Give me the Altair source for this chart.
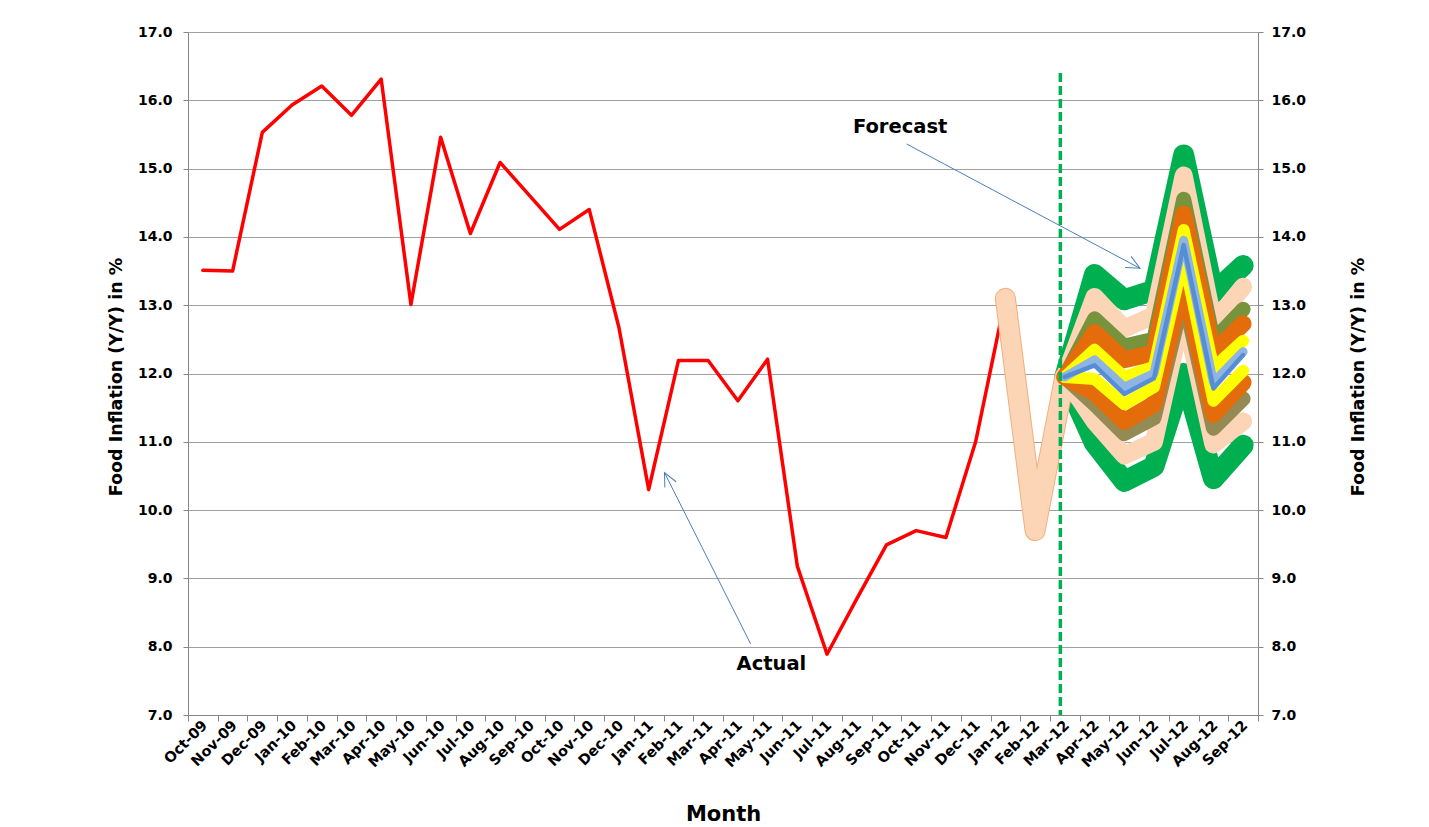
import math
import altair as alt
import pandas as pd

# ---------------- data ----------------
months = ["Oct-09", "Nov-09", "Dec-09", "Jan-10", "Feb-10", "Mar-10", "Apr-10", "May-10",
          "Jun-10", "Jul-10", "Aug-10", "Sep-10", "Oct-10", "Nov-10", "Dec-10", "Jan-11",
          "Feb-11", "Mar-11", "Apr-11", "May-11", "Jun-11", "Jul-11", "Aug-11", "Sep-11",
          "Oct-11", "Nov-11", "Dec-11", "Jan-12", "Feb-12", "Mar-12", "Apr-12", "May-12",
          "Jun-12", "Jul-12", "Aug-12", "Sep-12"]

# actual food inflation (red), continuing as forecast centre
actual = [13.51, 13.50, 15.53, 15.93, 16.21, 15.78, 16.31, 13.01, 15.46, 14.05, 15.09, 14.60,
          14.11, 14.40, 12.67, 10.30, 12.19, 12.19, 11.60, 12.21, 9.18, 7.89, 8.70, 9.49,
          9.70, 9.60, 11.00, 13.10, 9.70, 11.95, 12.14, 11.72, 11.94, 13.90, 11.80, 12.28]

# fan bands, Mar-12 .. Sep-12
green_up  = [11.95, 13.45, 13.08, 13.22, 15.20, 13.18, 13.58]
peach_up  = [11.95, 13.12, 12.66, 12.85, 14.90, 12.74, 13.27]
olive_up  = [11.95, 12.80, 12.40, 12.50, 14.55, 12.48, 12.94]
orange_up = [11.95, 12.60, 12.20, 12.30, 14.33, 12.30, 12.73]
yellow_up = [11.95, 12.35, 11.95, 12.10, 14.10, 12.08, 12.48]
lblue     = [11.95, 12.20, 11.80, 12.00, 13.95, 11.87, 12.32]
blue      = [11.95, 12.12, 11.70, 11.93, 13.88, 11.78, 12.27]
yellow_lo = [11.95, 11.92, 11.55, 11.80, 13.70, 11.60, 12.04]
orange_lo = [11.95, 11.72, 11.30, 11.55, 13.36, 11.40, 11.87]
olive_lo  = [11.95, 11.55, 11.12, 11.35, 13.15, 11.20, 11.63]
peach_lo  = [11.95, 11.30, 10.80, 11.00, 12.95, 10.96, 11.30]
green_lo  = [11.95, 10.98, 10.42, 10.64, 12.00, 10.46, 10.95]
# thick peach segment Jan-12 .. Mar-12
peach_hist = [13.10, 9.70, 11.95]

fan_start = "Mar-12"
hist_start = "Jan-12"
divider_pos = 28.85  # position of the dashed forecast divider (category units)

ann_labels = ["Forecast", "Actual"]
ann_x = [23.46, 19.13]
ann_y = [15.61, 7.75]

arrow_x = [23.68, 18.43]
arrow_y = [15.36, 8.04]
arrow_x2 = [31.53, 15.53]
arrow_y2 = [13.54, 10.55]

# ---------------- layout ----------------
N = len(months)
W, H = 1070, 683
YMIN, YMAX = 7.0, 17.0
TICK_FONT = "DejaVu Sans"
GRID = "#A0A0A0"
AXC = "#868686"


def frame(vals, start):
    i0 = months.index(start)
    return pd.DataFrame({"idx": list(range(i0, i0 + len(vals))), "value": vals})


xscale = alt.Scale(domain=[-0.5, N - 0.5], nice=False, zero=False)
yscale = alt.Scale(domain=[YMIN, YMAX], nice=False, zero=False)

months_js = "[" + ",".join("'" + m + "'" for m in months) + "]"
xaxis = alt.Axis(
    values=[i - 0.5 for i in range(N + 1)],
    labelExpr="datum.value > " + str(N - 1) + " ? '' : " + months_js + "[round(datum.value + 0.5)]",
    labelOffset=W / N / 2 + 2,
    labelAngle=315, labelAlign="right", labelBaseline="middle",
    labelPadding=2, labelOverlap=False, labelFlush=False, labelBound=False,
    labelFont=TICK_FONT, labelFontSize=14.5, labelFontWeight="bold", labelColor="black",
    tickSize=6, tickColor=AXC, domainColor=AXC, grid=False,
    title="Month", titleFont=TICK_FONT, titleFontSize=21, titleFontWeight="bold",
    titleColor="black", titleY=105, titleBaseline="alphabetic",
)

yvals = [YMIN + i for i in range(int(YMAX - YMIN) + 1)]


def yaxis(orient):
    left = orient == "left"
    return alt.Axis(
        orient=orient, values=yvals, format=".1f",
        grid=left, gridColor=GRID, gridWidth=1,
        tickSize=5, tickColor=AXC, domainColor=AXC,
        labelPadding=11 if left else 8,
        labelFont=TICK_FONT, labelFontSize=14, labelFontWeight="bold", labelColor="black",
        title="Food Inflation (Y/Y) in %", titleFont=TICK_FONT, titleFontSize=17.5,
        titleFontWeight="bold", titleColor="black", titleAngle=270,
        titleAlign="center", titleBaseline="middle",
        titleX=-72 if left else 100, titleY=H / 2 + 3,
    )


def X(field="idx"):
    return alt.X(field + ":Q", scale=xscale, axis=xaxis)


def Y(field="value", axis=None):
    return alt.Y(field + ":Q", scale=yscale, axis=axis)


def line(df, color, width, axis=None, opacity=1.0):
    return alt.Chart(df).mark_line(
        color=color, strokeWidth=width, strokeCap="round", strokeJoin="round", opacity=opacity
    ).encode(x=X(), y=Y(axis=axis))


df_actual = frame(actual, months[0])

layers = [
    line(df_actual, "#FF0000", 3.5, axis=yaxis("left")),
    line(df_actual, "#FF0000", 3.5, axis=yaxis("right"), opacity=0),
    line(frame(green_up, fan_start), "#00B050", 21),
    line(frame(green_lo, fan_start), "#00B050", 21),
    line(frame(peach_hist, hist_start), "#F2AF7E", 21),
    line(frame(peach_hist, hist_start), "#FBD5B5", 19),
    line(frame(peach_up, fan_start), "#FBD5B5", 18),
    line(frame(peach_lo, fan_start), "#FBD5B5", 18),
    line(frame(olive_up, fan_start), "#77933C", 15),
    line(frame(olive_lo, fan_start), "#948A54", 15),
    line(frame(orange_up, fan_start), "#E46C0A", 17),
    line(frame(orange_lo, fan_start), "#E46C0A", 17),
    line(frame(yellow_up, fan_start), "#FFFF00", 12),
    line(frame(yellow_lo, fan_start), "#FFFF00", 12),
    line(frame(lblue, fan_start), "#8EB4E3", 9),
    line(frame(blue, fan_start), "#558ED5", 4.5),
]

# dashed divider
div_df = pd.DataFrame({"x": [divider_pos], "y": [16.4], "y2": [YMIN]})
layers.append(
    alt.Chart(div_df).mark_rule(color="#00B050", strokeWidth=3.5, strokeDash=[9, 4]).encode(
        x=X("x"), y=Y("y"), y2="y2:Q")
)

# annotation arrows
px_x = W / N
px_y = H / (YMAX - YMIN)
angles = [
    math.degrees(math.atan2(-(y2 - y1) * px_y, (x2 - x1) * px_x)) % 360
    for x1, y1, x2, y2 in zip(arrow_x, arrow_y, arrow_x2, arrow_y2)
]
arr_df = pd.DataFrame({"x": arrow_x, "y": arrow_y, "x2": arrow_x2, "y2": arrow_y2, "ang": angles})
layers.append(
    alt.Chart(arr_df).mark_rule(color="#4A7EBB", strokeWidth=1).encode(
        x=X("x"), y=Y("y"), x2="x2:Q", y2="y2:Q")
)
layers.append(
    alt.Chart(arr_df).mark_point(
        shape="M-0.9,-0.42L0,0L-0.9,0.42", filled=False, size=900, strokeWidth=1,
        color="#4A7EBB", opacity=1
    ).encode(x=X("x2"), y=Y("y2"), angle=alt.Angle("ang:Q", scale=None))
)

ann_df = pd.DataFrame({"label": ann_labels, "x": ann_x, "y": ann_y})
layers.append(
    alt.Chart(ann_df).mark_text(
        font=TICK_FONT, fontSize=19.5, fontWeight="bold", color="black"
    ).encode(x=X("x"), y=Y("y"), text="label:N")
)

chart = alt.layer(*layers).resolve_axis(y="independent").properties(
    width=W, height=H,
    autosize=alt.AutoSizeParams(type="none"),
    padding={"left": 180, "top": 24, "right": 160, "bottom": 110},
).configure_view(stroke=None)

chart.save("out.html", embed_options={"renderer": "svg", "actions": False})
